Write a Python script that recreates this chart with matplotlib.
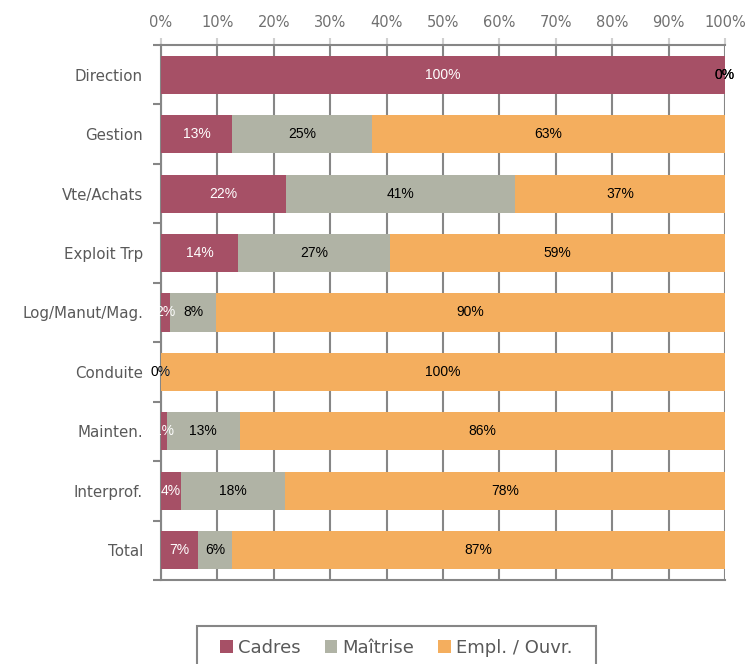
import matplotlib
matplotlib.use("Agg")
import matplotlib.pyplot as plt
from matplotlib.patches import Rectangle
import numpy as np

categories = ["Direction", "Gestion", "Vte/Achats", "Exploit Trp", "Log/Manut/Mag.",
              "Conduite", "Mainten.", "Interprof.", "Total"]
cadres = [100.0, 12.6, 22.2, 13.7, 1.6, 0.0, 1.0, 3.6, 6.6]
maitrise = [0.0, 24.8, 40.6, 26.9, 8.2, 0.0, 13.0, 18.3, 6.0]
empl = [0.0, 62.6, 37.2, 59.4, 90.2, 100.0, 86.0, 78.1, 87.4]
series_names = ["Cadres", "Maîtrise", "Empl. / Ouvr."]
colors = ["#A65066", "#B0B3A5", "#F4AE5E"]
label_colors = ["white", "black", "black"]
xticks = [0, 10, 20, 30, 40, 50, 60, 70, 80, 90, 100]

fig = plt.figure(figsize=(7.5, 6.64), dpi=100)
ax = fig.add_axes([161/750, 1-580/664, (725-161)/750, (580-45)/664])

y = np.arange(len(categories))
left = np.zeros(len(categories))
series = [cadres, maitrise, empl]
for vals, name, col, lc in zip(series, series_names, colors, label_colors):
    vals = np.array(vals)
    ax.barh(y, vals, left=left, height=0.64, color=col, label=name, zorder=3)
    for yi, (l, v) in enumerate(zip(left, vals)):
        ax.text(l + v/2, yi, f"{round(v):.0f}%", ha="center", va="center",
                color=lc, fontsize=10, family="Liberation Sans", zorder=5)
    left = left + vals

ax.set_xlim(0, 100)
ax.set_ylim(len(categories) - 0.5, -0.5)
ax.set_yticks(y)
ax.set_yticklabels(categories)
ax.set_yticks(np.arange(-0.5, len(categories)), minor=True)
ax.tick_params(axis="y", which="major", length=0, pad=13, labelsize=10.8, labelcolor="#595959")
ax.tick_params(axis="y", which="minor", length=6, width=1.5, color="#868686")
ax.xaxis.tick_top()
ax.set_xticks(xticks)
ax.set_xticklabels([f"{t}%" for t in xticks])
ax.tick_params(axis="x", length=5, width=1.5, color="#D0D0D0", labelsize=10.5,
               labelcolor="#707070", pad=6)
ax.grid(axis="x", color="#868686", linewidth=1.5, zorder=0)
for s in ["top", "bottom", "left", "right"]:
    ax.spines[s].set_color("#868686")
    ax.spines[s].set_linewidth(1.5)
ax.spines["right"].set_visible(False)
ax.set_axisbelow(True)

fig.patches.append(Rectangle((197/750, -0.05), (596-197)/750, 0.05 + (664-626)/664,
                             transform=fig.transFigure, fill=False,
                             edgecolor="#868686", linewidth=1.5))
leg = fig.legend(loc="center", bbox_to_anchor=(396.5/750, 1-648/664), ncol=3,
                 frameon=False, fontsize=13, borderaxespad=0,
                 handlelength=0.7, handleheight=0.7, handletextpad=0.3, columnspacing=1.3)
for t in leg.get_texts():
    t.set_color("#595959")

fig.savefig("out.png", dpi=100)
